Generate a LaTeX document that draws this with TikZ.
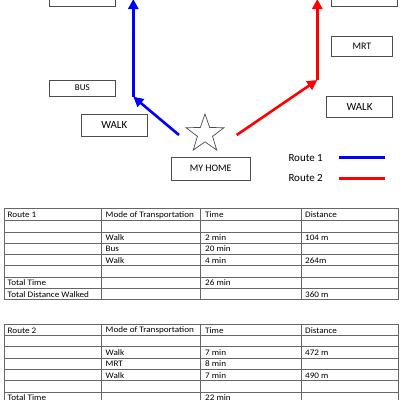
\documentclass[tikz,border=0pt]{standalone}
\usepackage{fontspec}
\setmainfont{Carlito}
\newfontfamily\tabfont{Carlito}[FakeStretch=1.08]
\usetikzlibrary{arrows.meta,shapes.geometric}
\begin{document}
\begin{tikzpicture}[x=1bp,y=-1bp,
  box/.style={draw=black!70,line width=0.8bp,inner sep=0pt,rectangle},
  rt/.style={line width=2.6bp,-{Triangle[length=10bp,width=10bp]}},
  leg/.style={line width=2.6bp},
  cell/.style={anchor=west,inner sep=0pt,font=\tabfont\fontsize{8.5}{9}\selectfont},
  grid/.style={draw=black!60,line width=0.6bp}]
\useasboundingbox (0,0) rectangle (400,400);
% boxes
\node[box,minimum width=66bp,minimum height=22bp] (tl) at (82.3,-5) {};
\node[box,minimum width=66bp,minimum height=16bp,font=\fontsize{9}{10}\selectfont] (bus) at (82.3,88) {BUS};
\node[box,minimum width=66bp,minimum height=21.3bp,font=\fontsize{11}{12}\selectfont] (walkL) at (114.3,125.3) {WALK};
\node[box,minimum width=78.7bp,minimum height=22.7bp,font=\fontsize{10}{11}\selectfont] (home) at (210.7,168.7) {MY HOME};
\node[box,minimum width=66bp,minimum height=22bp] (tr) at (364.7,-5) {};
\node[box,minimum width=60.7bp,minimum height=20bp,font=\fontsize{10}{11}\selectfont] (mrt) at (362,46.7) {MRT};
\node[box,minimum width=65.7bp,minimum height=21.3bp,font=\fontsize{11}{12}\selectfont] (walkR) at (359.5,106.7) {WALK};
\node[star,star points=5,star point ratio=2.5,draw=black!70,line width=0.7bp,minimum size=39.8bp,inner sep=0pt] (star) at (205,133.9) {};
% routes
\coordinate (b0) at (179,135);
\coordinate (b1) at (133.3,96.7);
\coordinate (b2) at (133.3,-1);
\coordinate (r0) at (236.7,135);
\coordinate (r1) at (317.3,80);
\coordinate (r2) at (317.3,-1);
\draw[rt,blue] (b0) -- (b1);
\draw[rt,blue] (b1) -- (b2);
\draw[rt,red] (r0) -- (r1);
\draw[rt,red] (r1) -- (r2);
% legend
\node[anchor=west,inner sep=0pt,font=\fontsize{11}{12}\selectfont] (l1) at (288.3,157.7) {Route 1};
\node[anchor=west,inner sep=0pt,font=\fontsize{11}{12}\selectfont] (l2) at (288.3,178.3) {Route 2};
\coordinate (l1a) at (339.3,157.7); \coordinate (l1b) at (385.3,157.7);
\coordinate (l2a) at (339.3,178.3); \coordinate (l2b) at (385.3,178.3);
\draw[leg,blue] (l1a) -- (l1b);
\draw[leg,red] (l2a) -- (l2b);
% table 1 grid
\foreach \y in {208.5,220.7,232,243,254.3,265.7,277,288.3,299.7}
  \draw[grid] (4,\y) -- (398.5,\y);
\foreach \x in {4,101,200.7,301,398.5}
  \draw[grid] (\x,208.5) -- (\x,299.7);
% table 1 text
\node[cell] (a00) at (7.5,215) {Route 1};
\node[cell] (a01) at (105.5,215) {Mode of Transportation};
\node[cell] (a02) at (205,215) {Time};
\node[cell] (a03) at (305,215) {Distance};
\node[cell] (a21) at (105.5,237.8) {Walk};
\node[cell] (a22) at (205,237.8) {2 min};
\node[cell] (a23) at (305,237.8) {104 m};
\node[cell] (a31) at (105.5,249) {Bus};
\node[cell] (a32) at (205,249) {20 min};
\node[cell] (a41) at (105.5,260.3) {Walk};
\node[cell] (a42) at (205,260.3) {4 min};
\node[cell] (a43) at (305,260.3) {264m};
\node[cell] (a60) at (7.5,283) {Total Time};
\node[cell] (a62) at (205,283) {26 min};
\node[cell] (a70) at (7.5,294.3) {Total Distance Walked};
\node[cell] (a73) at (305,294.3) {360 m};
% table 2 grid
\foreach \y in {324.3,335.7,346.7,358.3,369.3,380.7,392.3,403.7}
  \draw[grid] (4,\y) -- (398.5,\y);
\foreach \x in {4,101,200.7,301,398.5}
  \draw[grid] (\x,324.3) -- (\x,404);
% table 2 text
\node[cell] (c00) at (7.5,330.3) {Route 2};
\node[cell] (c01) at (105.5,330.3) {Mode of Transportation};
\node[cell] (c02) at (205,330.3) {Time};
\node[cell] (c03) at (305,330.3) {Distance};
\node[cell] (c21) at (105.5,352.8) {Walk};
\node[cell] (c22) at (205,352.8) {7 min};
\node[cell] (c23) at (305,352.8) {472 m};
\node[cell] (c31) at (105.5,364) {MRT};
\node[cell] (c32) at (205,364) {8 min};
\node[cell] (c41) at (105.5,375.3) {Walk};
\node[cell] (c42) at (205,375.3) {7 min};
\node[cell] (c43) at (305,375.3) {490 m};
\node[cell] (c60) at (7.5,397.3) {Total Time};
\node[cell] (c62) at (205,397.3) {22 min};
\end{tikzpicture}
\end{document}
